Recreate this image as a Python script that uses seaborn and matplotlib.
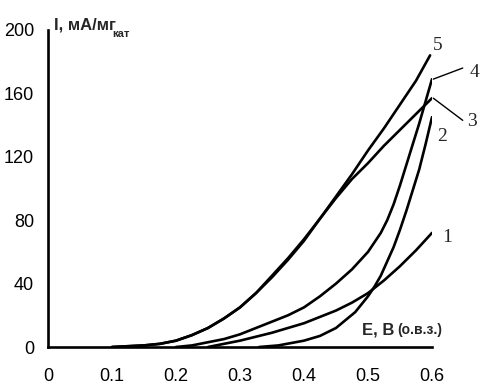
import numpy as np
import pandas as pd
import matplotlib
matplotlib.use("Agg")
import matplotlib.pyplot as plt
import seaborn as sns

sns.set_style("white")
plt.rcParams['font.family'] = ['Liberation Sans Narrow', 'Liberation Sans', 'DejaVu Sans']

# потенциал, В (о.в.з.) и ток, мА/мг кат
e1 = [0.25, 0.275, 0.30, 0.325, 0.35, 0.375, 0.40, 0.425, 0.45, 0.475, 0.50, 0.525, 0.55, 0.575, 0.60]
i1 = [0, 2, 4, 6.5, 9, 12, 15, 19, 23, 28, 34, 42, 51, 61, 72]

e2 = [0.33, 0.36, 0.40, 0.425, 0.45, 0.465, 0.48, 0.49, 0.50, 0.51, 0.52, 0.53, 0.54, 0.55,
      0.56, 0.57, 0.58, 0.59, 0.60]
i2 = [0, 1, 4, 7, 12, 17, 22, 27, 32, 38, 45, 54, 63, 74, 86, 99, 112, 128, 145]

e3 = [0.10, 0.15, 0.175, 0.20, 0.225, 0.25, 0.275, 0.30, 0.325, 0.35, 0.375, 0.40, 0.425,
      0.45, 0.475, 0.50, 0.525, 0.55, 0.575, 0.60]
i3 = [0, 1, 2, 4, 7.5, 12, 18, 25, 34, 44, 55, 67, 81, 94, 106, 116, 127, 137, 147, 157]

e4 = [0.20, 0.225, 0.25, 0.275, 0.30, 0.325, 0.35, 0.375, 0.40, 0.425, 0.45, 0.475, 0.50,
      0.51, 0.52, 0.53, 0.54, 0.55, 0.56, 0.57, 0.58, 0.59, 0.60]
i4 = [0, 1, 3, 5, 8, 12, 16, 20, 25, 32, 40, 49, 60, 66, 72, 80, 90, 102, 115, 128, 141, 155, 169]

e5 = [0.10, 0.15, 0.175, 0.20, 0.225, 0.25, 0.275, 0.30, 0.325, 0.35, 0.375, 0.40, 0.425,
      0.45, 0.475, 0.50, 0.525, 0.55, 0.575, 0.597]
i5 = [0, 1, 2, 4, 7.5, 12, 18, 25, 34, 45, 56, 68, 81, 95, 109, 124, 138, 153, 168, 184]

curves = {'1': (e1, i1), '2': (e2, i2), '3': (e3, i3), '4': (e4, i4), '5': (e5, i5)}

x_ticks = [0, 0.1, 0.2, 0.3, 0.4, 0.5, 0.6]
x_labels = ['0', '0.1', '0.2', '0.3', '0.4', '0.5', '0.6']
y_ticks = [0, 40, 80, 120, 160, 200]

rows = []
for name, (e, i) in curves.items():
    for a, b in zip(e, i):
        rows.append({'curve': name, 'E': a, 'I': b})
df = pd.DataFrame(rows)

fig = plt.figure(figsize=(4.81, 3.87), dpi=100)
ax = fig.add_axes([48 / 481, 40 / 387, 384 / 481, 317 / 387])

sns.lineplot(data=df, x='E', y='I', hue='curve', palette=['black'] * 5,
             linewidth=1.9, legend=False, ax=ax, sort=True)

ax.set_xlim(0, 0.6)
ax.set_ylim(0, 200)
ax.set_xticks(x_ticks)
ax.set_xticklabels(x_labels)
ax.set_yticks(y_ticks)
ax.tick_params(axis='both', direction='out', length=4, width=1.8, labelsize=13,
               colors='black', pad=6)
ax.tick_params(axis='x', pad=11)
for side in ['top', 'right']:
    ax.spines[side].set_visible(False)
for side in ['left', 'bottom']:
    ax.spines[side].set_linewidth(1.9)
    ax.spines[side].set_color('black')
ax.set_xlabel('')
ax.set_ylabel('')

# подписи осей
ax.text(0.009, 203, 'I, мА/мг', fontsize=12, fontweight='bold', va='center',
        ha='left', clip_on=False)
ax.text(0.100, 197.5, 'кат', fontsize=8, fontweight='bold', va='center',
        ha='left', clip_on=False)
ax.text(0.490, 10.5, 'Е, В', fontsize=12, fontweight='bold', va='center', ha='left')
ax.text(0.546, 10.5, '(о.в.з.)', fontsize=10, fontweight='bold', va='center', ha='left')

# номера кривых
serif = ['Liberation Serif', 'DejaVu Serif']
ax.text(0.609, 190, '5', family=serif, fontsize=14, ha='center', va='center', clip_on=False)
ax.text(0.667, 173, '4', family=serif, fontsize=14, ha='center', va='center', clip_on=False)
ax.text(0.663, 142, '3', family=serif, fontsize=14, ha='center', va='center', clip_on=False)
ax.text(0.616, 133, '2', family=serif, fontsize=14, ha='center', va='center', clip_on=False)
ax.text(0.623, 69, '1', family=serif, fontsize=14, ha='center', va='center', clip_on=False)
ax.plot([0.602, 0.648], [169, 176], color='black', linewidth=1.0, clip_on=False)
ax.plot([0.602, 0.648], [157, 143], color='black', linewidth=1.0, clip_on=False)

fig.savefig('out.png', dpi=100)
